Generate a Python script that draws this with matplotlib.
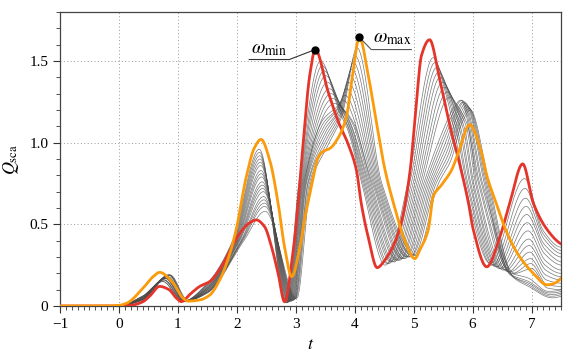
import matplotlib
matplotlib.use('Agg')
import matplotlib.pyplot as plt
import numpy as np
from matplotlib.ticker import MultipleLocator, FixedLocator, FixedFormatter

plt.rcParams['font.family'] = ['Liberation Serif', 'DejaVu Serif']
plt.rcParams['mathtext.fontset'] = 'stix'

# omega_min curve (red)
red_t = [-1.0, 0.0, 0.2, 0.4, 0.52, 0.69, 0.85, 0.97, 1.06, 1.2, 1.37, 1.54, 1.77, 1.94, 2.05, 2.22, 2.33,
         2.47, 2.59, 2.70, 2.81, 2.95, 3.04, 3.11, 3.24, 3.33, 3.55, 3.72, 3.89, 4.03, 4.11, 4.23, 4.38, 4.51,
         4.68, 4.79, 4.94, 5.05, 5.13, 5.27, 5.44, 5.61, 5.76, 5.93, 6.01, 6.24, 6.46, 6.63, 6.85, 7.03, 7.26, 7.5]
red_q = [0.0, 0.0, 0.004, 0.025, 0.06, 0.12, 0.10, 0.05, 0.027, 0.07, 0.12, 0.15, 0.26, 0.38, 0.445, 0.51, 0.527,
         0.486, 0.36, 0.20, 0.026, 0.32, 0.63, 0.935, 1.42, 1.57, 1.31, 1.13, 0.99, 0.83, 0.63, 0.42, 0.235, 0.28,
         0.39, 0.51, 0.83, 1.26, 1.53, 1.63, 1.39, 1.11, 0.90, 0.63, 0.47, 0.24, 0.42, 0.63, 0.87, 0.63, 0.47, 0.38]

# omega_max curve (orange)
orange_t = [-1.0, -0.2, 0.0, 0.13, 0.41, 0.58, 0.69, 0.92, 1.09, 1.17, 1.37, 1.54, 1.71, 1.88, 1.99, 2.16, 2.30,
            2.41, 2.56, 2.70, 2.81, 2.93, 3.07, 3.15, 3.24, 3.32, 3.38, 3.46, 3.58, 3.72, 3.86, 3.95, 4.08, 4.23,
            4.37, 4.51, 4.68, 4.85, 5.02, 5.10, 5.25, 5.33, 5.47, 5.64, 5.76, 5.95, 6.15, 6.24, 6.40, 6.58, 6.80,
            7.03, 7.26, 7.5]
orange_q = [0.0, 0.0, 0.004, 0.017, 0.11, 0.18, 0.206, 0.14, 0.047, 0.03, 0.037, 0.067, 0.16, 0.32, 0.47, 0.79, 0.97,
            1.02, 0.89, 0.63, 0.36, 0.18, 0.36, 0.53, 0.69, 0.83, 0.91, 0.945, 0.965, 1.03, 1.16, 1.38, 1.645, 1.41,
            1.12, 0.84, 0.60, 0.40, 0.29, 0.34, 0.47, 0.67, 0.74, 0.83, 0.94, 1.11, 0.94, 0.80, 0.63, 0.45, 0.30,
            0.20, 0.13, 0.17]

# intermediate omega curves (gray): features of every curve
g_q04 = [0.06, 0.06, 0.06, 0.055, 0.055, 0.05, 0.05, 0.05, 0.05, 0.045, 0.045, 0.045, 0.04, 0.04, 0.04, 0.04, 0.035, 0.035]
ga_t = [0.74, 0.75, 0.76, 0.76, 0.77, 0.78, 0.79, 0.79, 0.80, 0.81, 0.82, 0.82, 0.83, 0.84, 0.85, 0.85, 0.86, 0.87]
ga_q = [0.15, 0.15, 0.16, 0.16, 0.16, 0.17, 0.17, 0.17, 0.17, 0.18, 0.18, 0.18, 0.18, 0.19, 0.19, 0.19, 0.19, 0.19]
gb_t = [1.08, 1.08, 1.09, 1.09, 1.10, 1.10, 1.11, 1.11, 1.12, 1.12, 1.13, 1.13, 1.14, 1.14, 1.15, 1.15, 1.16, 1.17]
gb_q = [0.028, 0.028, 0.029, 0.029, 0.03, 0.03, 0.03, 0.03, 0.031, 0.031, 0.032, 0.032, 0.033, 0.033, 0.034, 0.034, 0.035, 0.035]
g_q15 = [0.14, 0.135, 0.13, 0.125, 0.12, 0.115, 0.11, 0.11, 0.105, 0.10, 0.10, 0.095, 0.09, 0.09, 0.085, 0.085, 0.08, 0.08]
gd_t = [1.93, 1.94, 1.95, 1.96, 1.97, 1.98, 1.99, 2.00, 2.01, 2.02, 2.03, 2.04, 2.05, 2.07, 2.08, 2.09, 2.10, 2.12]
ge_t = [2.38, 2.385, 2.39, 2.395, 2.40, 2.405, 2.41, 2.415, 2.42, 2.43, 2.435, 2.44, 2.45, 2.455, 2.46, 2.47, 2.475, 2.48]
ge_q = [0.96, 0.94, 0.92, 0.90, 0.88, 0.86, 0.83, 0.81, 0.79, 0.76, 0.74, 0.72, 0.70, 0.67, 0.65, 0.63, 0.61, 0.58]
gf_t = [2.84, 2.85, 2.86, 2.87, 2.88, 2.89, 2.90, 2.91, 2.92, 2.93, 2.94, 2.95, 2.96, 2.97, 2.98, 2.99, 3.00, 3.02]
gf_q = [0.02, 0.02, 0.02, 0.025, 0.025, 0.025, 0.03, 0.03, 0.03, 0.03, 0.035, 0.035, 0.035, 0.04, 0.04, 0.045, 0.045, 0.05]
gg_t = [3.05, 3.06, 3.07, 3.08, 3.09, 3.10, 3.11, 3.12, 3.13, 3.14, 3.15, 3.16, 3.17, 3.18, 3.20, 3.21, 3.23, 3.25]
m1_t = [3.42, 3.45, 3.48, 3.51, 3.54, 3.57, 3.60, 3.63, 3.66, 3.46, 3.47, 3.48, 3.49, 3.50, 3.51, 3.52, 3.53, 3.54]
m1_q = [1.50, 1.47, 1.44, 1.41, 1.37, 1.33, 1.30, 1.27, 1.24, 1.14, 1.12, 1.10, 1.08, 1.06, 1.04, 1.02, 1.00, 0.98]
m2_t = [3.74, 3.75, 3.76, 3.77, 3.78, 3.79, 3.80, 3.81, 3.82, 3.70, 3.71, 3.72, 3.73, 3.74, 3.75, 3.76, 3.77, 3.78]
m2_q = [1.19, 1.20, 1.20, 1.21, 1.21, 1.21, 1.21, 1.20, 1.20, 1.22, 1.21, 1.21, 1.20, 1.20, 1.19, 1.18, 1.17, 1.16]
m3_t = [3.88, 3.89, 3.90, 3.91, 3.92, 3.93, 3.94, 3.96, 3.98, 3.80, 3.83, 3.86, 3.89, 3.92, 3.95, 3.98, 4.01, 4.04]
m3_q = [1.08, 1.09, 1.09, 1.10, 1.10, 1.11, 1.11, 1.12, 1.12, 1.26, 1.29, 1.33, 1.37, 1.41, 1.45, 1.49, 1.53, 1.58]
gh_t = [4.12, 4.14, 4.16, 4.18, 4.20, 4.22, 4.24, 4.26, 4.28, 4.30, 4.32, 4.34, 4.36, 4.38, 4.40, 4.42, 4.44, 4.46]
gi_t = [4.52, 4.55, 4.58, 4.61, 4.64, 4.67, 4.70, 4.73, 4.76, 4.79, 4.82, 4.85, 4.88, 4.91, 4.94, 4.97, 5.00, 5.04]
gi_q = [0.25, 0.26, 0.26, 0.27, 0.27, 0.27, 0.28, 0.28, 0.28, 0.29, 0.29, 0.29, 0.30, 0.30, 0.30, 0.31, 0.31, 0.31]
gj_t = [4.90, 4.93, 4.96, 4.99, 5.02, 5.05, 5.08, 5.11, 5.14, 5.17, 5.20, 5.23, 5.26, 5.29, 5.32, 5.35, 5.38, 5.42]
p1_t = [5.33, 5.36, 5.39, 5.42, 5.45, 5.49, 5.53, 5.57, 5.61, 5.47, 5.49, 5.51, 5.53, 5.55, 5.57, 5.59, 5.61, 5.63]
p1_q = [1.52, 1.49, 1.46, 1.43, 1.40, 1.37, 1.34, 1.31, 1.28, 1.05, 1.03, 1.01, 0.99, 0.97, 0.95, 0.93, 0.91, 0.89]
p2_t = [5.56, 5.59, 5.62, 5.65, 5.67, 5.70, 5.72, 5.75, 5.77, 5.66, 5.68, 5.70, 5.72, 5.74, 5.76, 5.78, 5.80, 5.82]
p2_q = [1.28, 1.27, 1.26, 1.25, 1.24, 1.23, 1.22, 1.21, 1.21, 1.20, 1.19, 1.18, 1.17, 1.16, 1.15, 1.14, 1.13, 1.12]
p3_t = [5.72, 5.75, 5.77, 5.80, 5.82, 5.85, 5.87, 5.90, 5.92, 5.80, 5.82, 5.84, 5.86, 5.88, 5.90, 5.92, 5.94, 5.96]
p3_q = [1.02, 1.03, 1.04, 1.05, 1.06, 1.07, 1.08, 1.09, 1.10, 1.26, 1.26, 1.25, 1.25, 1.24, 1.23, 1.22, 1.21, 1.20]
gk_t = [5.87, 5.90, 5.92, 5.95, 5.97, 6.00, 6.02, 6.05, 6.07, 6.10, 6.12, 6.15, 6.17, 6.20, 6.22, 6.24, 6.26, 6.28]
h_t = [6.30, 6.33, 6.36, 6.39, 6.42, 6.45, 6.48, 6.52, 6.56, 6.60, 6.64, 6.68, 6.72, 6.60, 6.62, 6.64, 6.66, 6.68]
h_q = [0.26, 0.25, 0.25, 0.24, 0.24, 0.23, 0.23, 0.22, 0.22, 0.21, 0.21, 0.20, 0.20, 0.21, 0.20, 0.19, 0.19, 0.18]
i_t = [6.88, 6.89, 6.90, 6.91, 6.92, 6.93, 6.94, 6.95, 6.96, 6.97, 6.98, 6.99, 7.00, 6.95, 6.95, 6.95, 6.95, 6.95]
i_q = [0.78, 0.72, 0.66, 0.61, 0.56, 0.51, 0.46, 0.41, 0.37, 0.33, 0.29, 0.26, 0.23, 0.17, 0.15, 0.14, 0.13, 0.12]
j_t = [7.20, 7.20, 7.21, 7.21, 7.22, 7.22, 7.23, 7.23, 7.24, 7.24, 7.25, 7.26, 7.27, 7.28, 7.30, 7.32, 7.33, 7.35]
j_q = [0.46, 0.44, 0.41, 0.38, 0.35, 0.32, 0.28, 0.25, 0.22, 0.19, 0.16, 0.13, 0.11, 0.09, 0.08, 0.07, 0.06, 0.05]
end_q = [0.36, 0.34, 0.32, 0.30, 0.27, 0.25, 0.22, 0.20, 0.18, 0.16, 0.14, 0.12, 0.10, 0.10, 0.09, 0.08, 0.07, 0.06]

# the marked peaks: first big maximum of each highlighted curve
mark_before = 4.5


def edge_slope(h0, h1, d0, d1):
    m = ((2 * h0 + h1) * d0 - h0 * d1) / (h0 + h1)
    if np.sign(m) != np.sign(d0):
        m = 0.0
    elif np.sign(d0) != np.sign(d1) and abs(m) > abs(3 * d0):
        m = 3 * d0
    return m


def smooth(x, y, xs):
    # monotone cubic line through the read points (no overshoot)
    x = np.asarray(x, float)
    y = np.asarray(y, float)
    h = np.diff(x)
    d = np.diff(y) / h
    n = len(x)
    m = np.zeros(n)
    for i in range(1, n - 1):
        if d[i - 1] * d[i] > 0:
            w1 = 2 * h[i] + h[i - 1]
            w2 = h[i] + 2 * h[i - 1]
            m[i] = (w1 + w2) / (w1 / d[i - 1] + w2 / d[i])
    m[0] = edge_slope(h[0], h[1], d[0], d[1])
    m[-1] = edge_slope(h[-1], h[-2], d[-1], d[-2])
    idx = np.clip(np.searchsorted(x, xs) - 1, 0, n - 2)
    hh = h[idx]
    s = (xs - x[idx]) / hh
    return ((1 + 2 * s) * (1 - s) ** 2 * y[idx] + s * (1 - s) ** 2 * hh * m[idx]
            + s ** 2 * (3 - 2 * s) * y[idx + 1] + s ** 2 * (s - 1) * hh * m[idx + 1])


def first_peak(t, q):
    t = np.asarray(t)
    q = np.where(t < mark_before, q, 0.0)
    i = int(np.argmax(q))
    return t[i], q[i]


ts = np.linspace(-1, 7.5, 1500)

fig = plt.figure(figsize=(5.81, 3.59), dpi=100)
ax = fig.add_axes([0.1033, 0.1476, 0.8623, 0.8190])

# gray family
for k in range(len(ga_t)):
    kt = [-1.0, 0.0, 0.4, ga_t[k], gb_t[k], 1.5, gd_t[k], ge_t[k], gf_t[k], gg_t[k],
          m1_t[k], m2_t[k], m3_t[k], gh_t[k], gi_t[k], gj_t[k], p1_t[k], p2_t[k], p3_t[k],
          gk_t[k], h_t[k], i_t[k], j_t[k], 7.5]
    kq = [0.0, 0.003, g_q04[k], ga_q[k], gb_q[k], g_q15[k], 0.4, ge_q[k], gf_q[k], 0.75,
          m1_q[k], m2_q[k], m3_q[k], 0.75, gi_q[k], 0.75, p1_q[k], p2_q[k], p3_q[k],
          0.75, h_q[k], i_q[k], j_q[k], end_q[k]]
    ax.plot(ts, smooth(kt, kq, ts), color='#4a4a4a', lw=0.5, alpha=0.75, zorder=2)

ax.plot(ts, smooth(red_t, red_q, ts), color='#e5352b', lw=2.0, zorder=3)
ax.plot(ts, smooth(orange_t, orange_q, ts), color='#fb9a0a', lw=2.0, zorder=4)

# peak markers with labels
x1, y1 = first_peak(red_t, red_q)
x2, y2 = first_peak(orange_t, orange_q)
ax.plot([x1 - 1.12, x1 - 0.44, x1], [y1 - 0.061, y1 - 0.061, y1], color='#333333', lw=0.8, zorder=5)
ax.plot([x2, x2 + 0.20, x2 + 0.88], [y2, y2 - 0.075, y2 - 0.075], color='#555555', lw=0.8, zorder=5)
ax.plot([x1, x2], [y1, y2], 'o', color='black', ms=5, zorder=6)
ax.text(x1 - 1.09, y1 - 0.052, r'$\omega_{\rm min}$', fontsize=14, ha='left', va='bottom')
ax.text(x2 + 0.23, y2 - 0.062, r'$\omega_{\rm max}$', fontsize=14, ha='left', va='bottom')

ax.set_xlim(-1, 7.5)
ax.set_ylim(0, 1.8)
ax.xaxis.set_major_locator(MultipleLocator(1))
ax.xaxis.set_minor_locator(MultipleLocator(0.1))
ax.yaxis.set_major_locator(FixedLocator([0, 0.5, 1.0, 1.5]))
ax.yaxis.set_major_formatter(FixedFormatter(['0', '0.5', '1.0', '1.5']))
ax.yaxis.set_minor_locator(MultipleLocator(0.1))
ax.tick_params(which='major', direction='out', length=5, width=0.8, labelsize=11, color='#333333')
ax.tick_params(which='minor', direction='out', length=3, width=0.6, color='#333333')
ax.grid(True, which='major', linestyle=(0, (1, 2.5)), color='#999999', lw=0.7)
for s in ax.spines.values():
    s.set_color('#444444')
    s.set_linewidth(0.9)

ax.set_xlabel(r'$t$', fontsize=13, labelpad=4)
ax.set_ylabel(r'$Q_{\rm sca}$', fontsize=13, labelpad=6)

fig.savefig('out.png', dpi=100)
